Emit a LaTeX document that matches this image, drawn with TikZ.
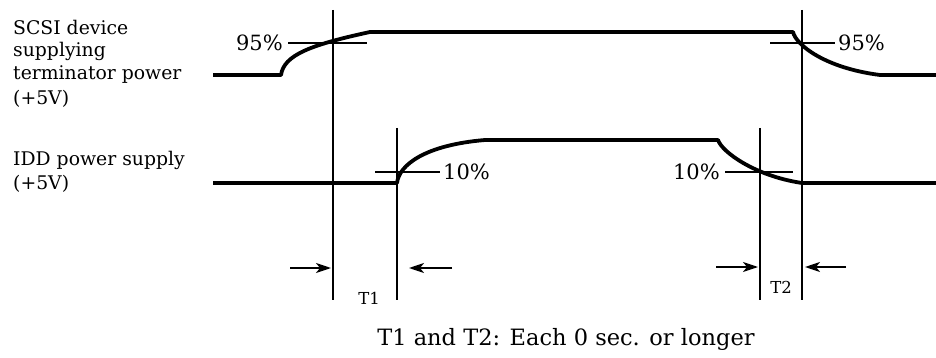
\documentclass[tikz,border=0pt]{standalone}
\usepackage{fontspec}
\setmainfont{DejaVu Serif}
\usetikzlibrary{arrows.meta}
\begin{document}
\begin{tikzpicture}[x=1pt,y=-1pt,
  sig/.style={line width=3.8pt, line join=round},
  vline/.style={line width=1.8pt},
  tickline/.style={line width=1.4pt},
  arr/.style={line width=1.8pt,-{Stealth[length=15pt,width=10pt,inset=4pt]}},
  lbl/.style={font=\fontsize{18.8}{21}\selectfont, anchor=west, inner sep=0pt},
  pct/.style={font=\fontsize{21}{24}\selectfont, inner sep=0pt},
  tlbl/.style={font=\fontsize{16.5}{19}\selectfont, inner sep=0pt},
  captext/.style={font=\fontsize{22.5}{26}\selectfont, inner sep=0pt}]
\useasboundingbox (0,0) rectangle (936,358);
% left labels
\node[lbl] (l1) at (13,27) {SCSI device};
\node[lbl] (l2) at (13,51) {supplying};
\node[lbl] (l3) at (13,75) {terminator power};
\node[lbl] (l4) at (13,99) {(+5V)};
\node[lbl] (l5) at (13,160) {IDD power supply};
\node[lbl] (l6) at (13,184) {(+5V)};
% signals
\draw[sig] (213,75) -- (281,75) .. controls (284,55) and (310,45) .. (370,32)
  -- (793,32) .. controls (796,45) and (825,68) .. (880,75) -- (936,75);
\draw[sig] (213,183) -- (397,183) .. controls (399,165) and (425,145) .. (485,140)
  -- (718,140) .. controls (722,152) and (755,176) .. (802,183) -- (936,183);
% vertical lines
\coordinate (v1t) at (333,10); \coordinate (v1b) at (333,300);
\coordinate (v2t) at (397,128); \coordinate (v2b) at (397,300);
\coordinate (v3t) at (760,128); \coordinate (v3b) at (760,300);
\coordinate (v4t) at (802,10); \coordinate (v4b) at (802,300);
\draw[vline] (v1t) -- (v1b);
\draw[vline] (v2t) -- (v2b);
\draw[vline] (v3t) -- (v3b);
\draw[vline] (v4t) -- (v4b);
% ticks and percent labels
\node[pct, anchor=east] (p1) at (283,43) {95\%};
\coordinate (t1e) at (367,43);
\draw[tickline] ([xshift=5pt]p1.east) -- (t1e);
\node[pct, anchor=west] (p2) at (443,172) {10\%};
\coordinate (t2s) at (375,172);
\draw[tickline] (t2s) -- ([xshift=-3pt]p2.west);
\node[pct, anchor=west] (p3) at (838,43) {95\%};
\coordinate (t3s) at (770,43);
\draw[tickline] (t3s) -- ([xshift=-3pt]p3.west);
\node[pct, anchor=east] (p4) at (720,172) {10\%};
\coordinate (t4e) at (793,172);
\draw[tickline] ([xshift=5pt]p4.east) -- (t4e);
% arrows
\coordinate (a1s) at (290,268); \coordinate (a1e) at (331,268);
\coordinate (a2s) at (452,268); \coordinate (a2e) at (409,268);
\coordinate (a3s) at (716,267); \coordinate (a3e) at (758,267);
\coordinate (a4s) at (846,267); \coordinate (a4e) at (805,267);
\draw[arr] (a1s) -- (a1e);
\draw[arr] (a2s) -- (a2e);
\draw[arr] (a3s) -- (a3e);
\draw[arr] (a4s) -- (a4e);
\node[tlbl] (T1) at (369,298) {T1};
\node[tlbl] (T2) at (781,287) {T2};
\node[captext] (c) at (566,339) {T1 and T2: Each 0 sec. or longer};
\end{tikzpicture}
\end{document}
